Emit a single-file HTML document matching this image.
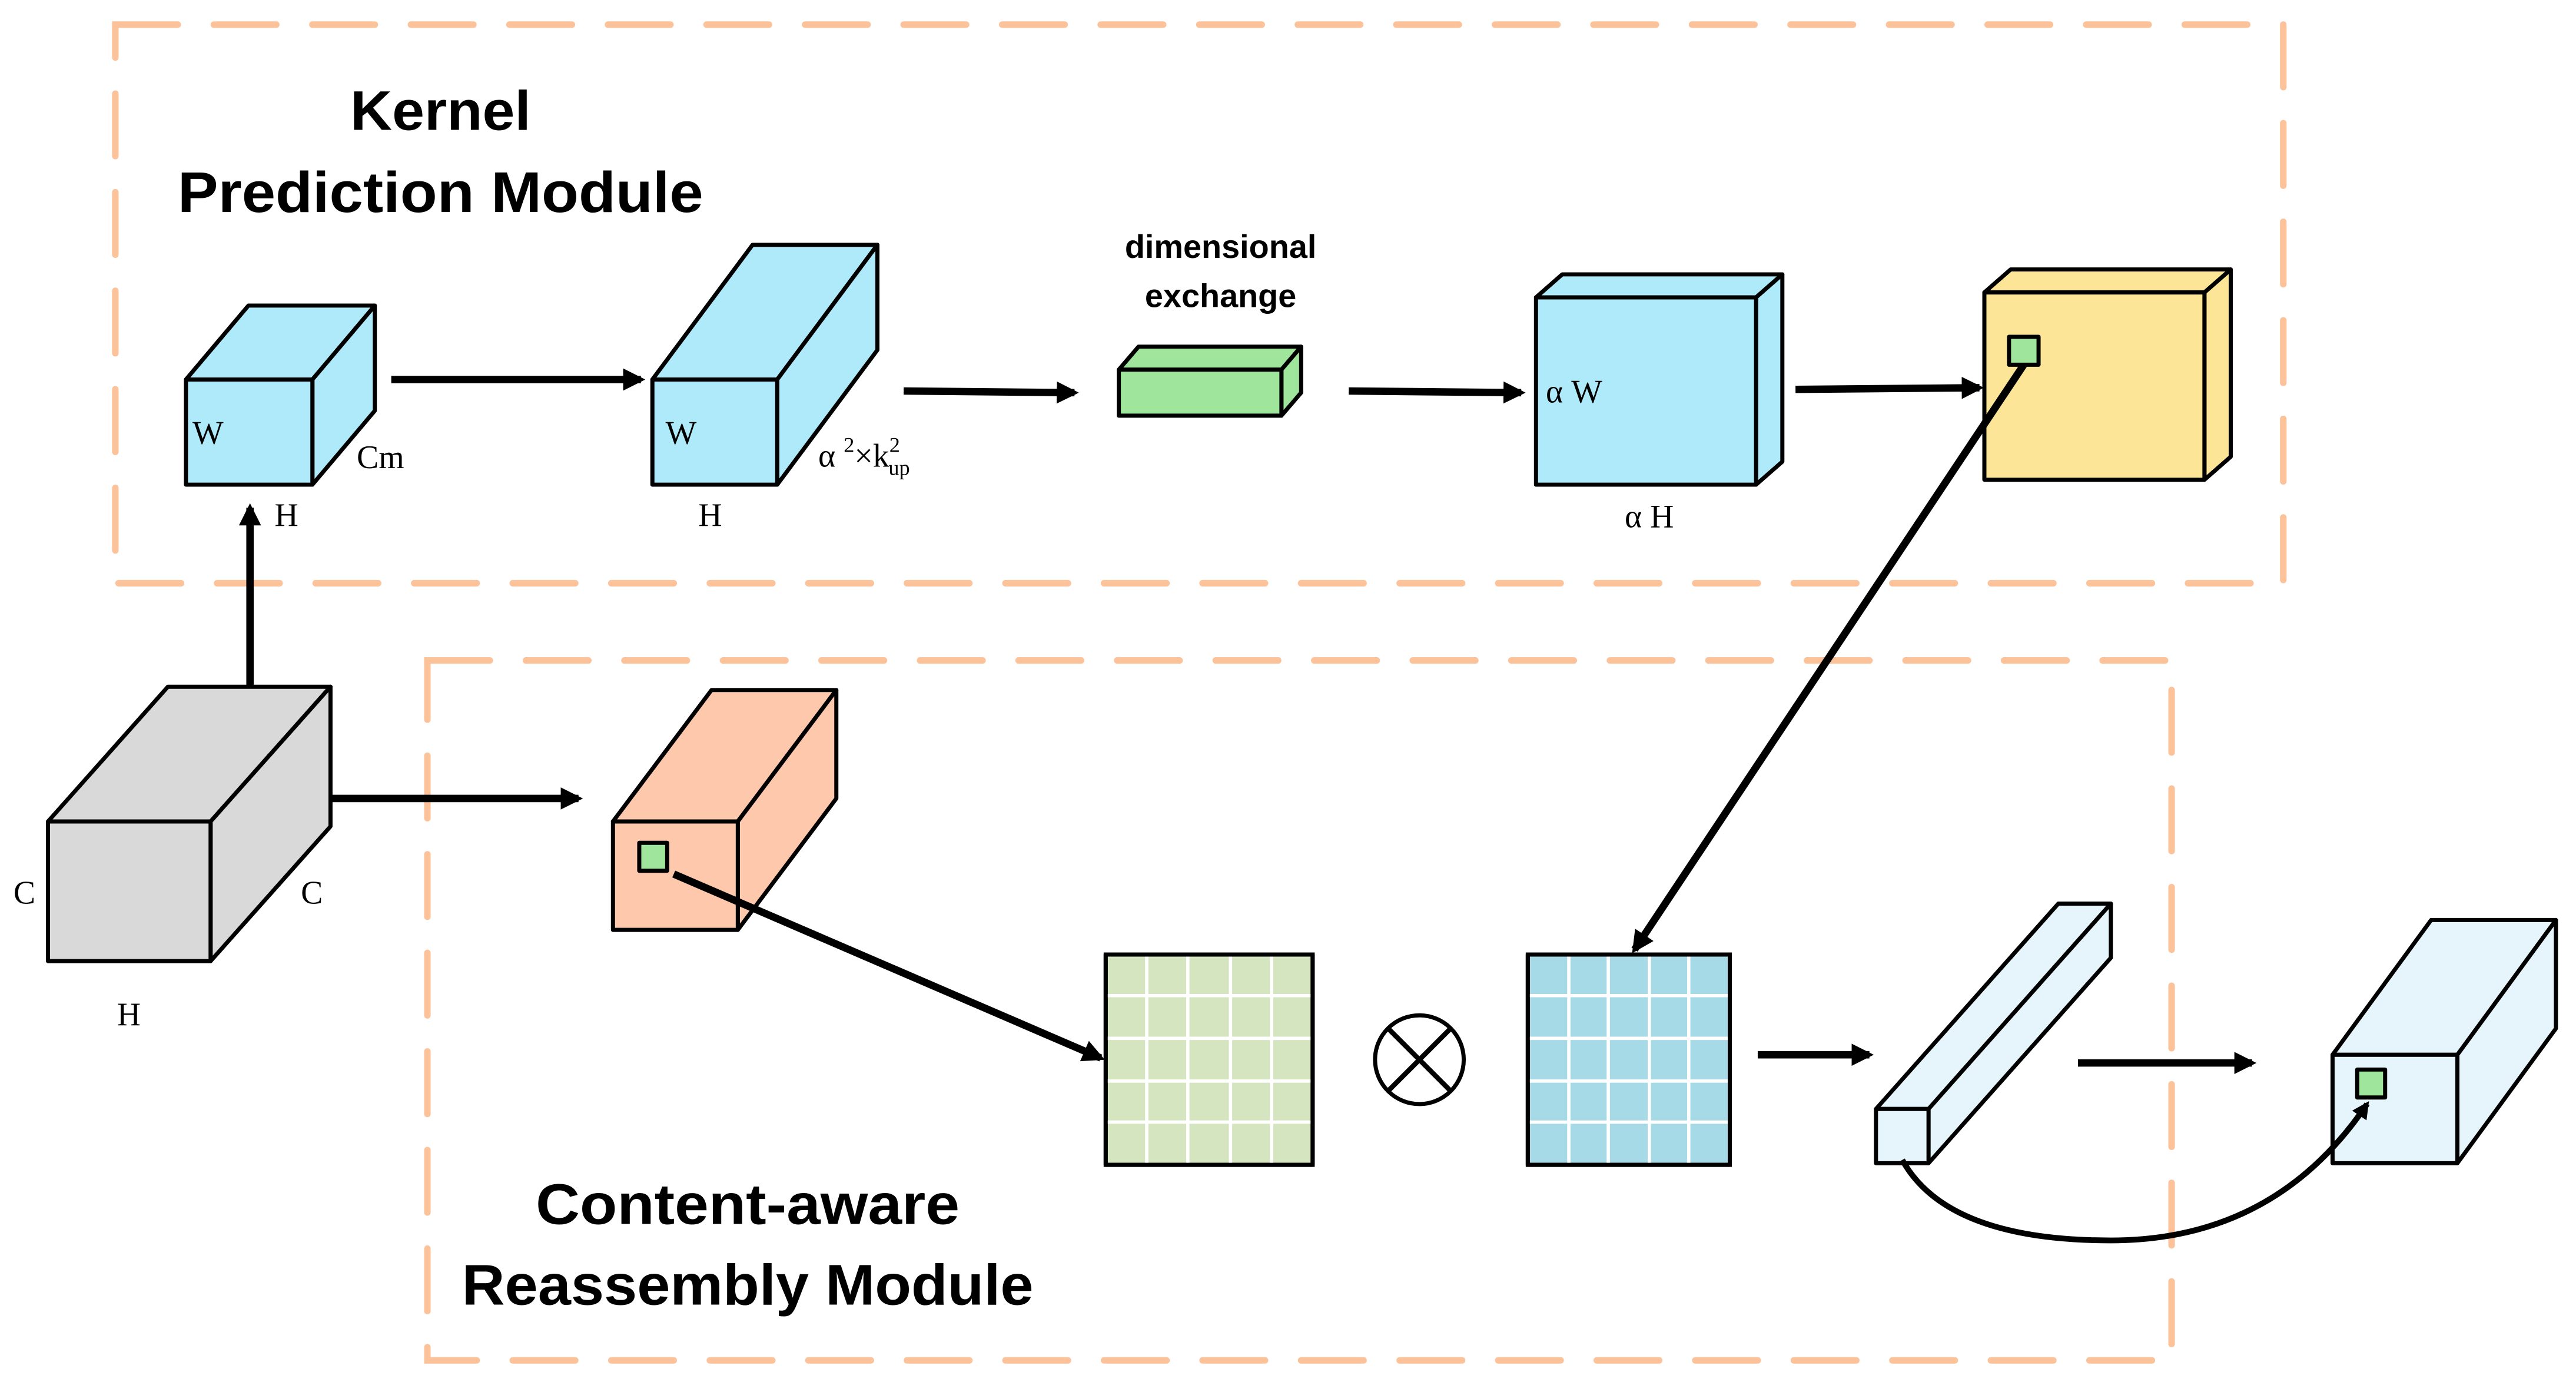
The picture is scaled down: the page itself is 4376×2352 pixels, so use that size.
<!DOCTYPE html>
<html><head><meta charset="utf-8"><style>html,body{margin:0;padding:0;background:#fff}svg{display:block}</style></head>
<body>
<svg width="4376" height="2352" viewBox="0 0 1568 843" xmlns="http://www.w3.org/2000/svg">
<defs>
<marker id="ah" viewBox="0 0 10 10" refX="8" refY="5" markerWidth="3" markerHeight="3" orient="auto" markerUnits="strokeWidth"><path d="M0,0 L10,5 L0,10 z" fill="#000"/></marker>
</defs>
<g fill="none" stroke="#fcc39a" stroke-width="4" stroke-dasharray="38,22" stroke-linecap="round">
<rect x="70" y="15" width="1320" height="340"/>
<rect x="260" y="402" width="1062" height="426"/>
</g>
<g font-family="Liberation Sans, sans-serif" font-weight="bold" text-anchor="middle" fill="#000">
<text x="268" y="79" font-size="34" textLength="110" lengthAdjust="spacingAndGlyphs">Kernel</text>
<text x="268" y="129" font-size="35" textLength="320" lengthAdjust="spacingAndGlyphs">Prediction Module</text>
<text x="455" y="745" font-size="35" textLength="258" lengthAdjust="spacingAndGlyphs">Content-aware</text>
<text x="455" y="794" font-size="35" textLength="348" lengthAdjust="spacingAndGlyphs">Reassembly Module</text>
<text x="743" y="157" font-size="20">dimensional</text>
<text x="743" y="187" font-size="20">exchange</text>
</g>
<g stroke="#000" stroke-width="2.5" stroke-linejoin="round">
<g fill="#aeeaf9"><path d="M113,231 L151,186 L228,186 L190,231Z"/><path d="M190,231 L228,186 L228,250 L190,295Z"/><rect x="113" y="231" width="77" height="64"/></g>
<g fill="#aeeaf9"><path d="M397,231 L458,149 L534,149 L473,231Z"/><path d="M473,231 L534,149 L534,213 L473,295Z"/><rect x="397" y="231" width="76" height="64"/></g>
<g fill="#9fe59c"><path d="M681,225 L693,211 L792,211 L780,225Z"/><path d="M780,225 L792,211 L792,239 L780,253Z"/><rect x="681" y="225" width="99" height="28"/></g>
<g fill="#aeeaf9"><path d="M935,181 L951,167 L1085,167 L1069,181Z"/><path d="M1069,181 L1085,167 L1085,281 L1069,295Z"/><rect x="935" y="181" width="134" height="114"/></g>
<g fill="#fde597"><path d="M1208,178 L1224,164 L1358,164 L1342,178Z"/><path d="M1342,178 L1358,164 L1358,278 L1342,292Z"/><rect x="1208" y="178" width="134" height="114"/></g>
<rect x="1223" y="205" width="18" height="17" fill="#9fe59c"/>
<g fill="#d9d9d9"><path d="M29,500 L102,418 L201,418 L128,500Z"/><path d="M128,500 L201,418 L201,503 L128,585Z"/><rect x="29" y="500" width="99" height="85"/></g>
<g fill="#fdc8ab"><path d="M373,500 L433,420 L509,420 L449,500Z"/><path d="M449,500 L509,420 L509,486 L449,566Z"/><rect x="373" y="500" width="76" height="66"/></g>
<rect x="389" y="513" width="17" height="17" fill="#9fe59c"/>
<g fill="#e6f5fc"><path d="M1142,675 L1253,550 L1285,550 L1174,675Z"/><path d="M1174,675 L1285,550 L1285,583 L1174,708Z"/><rect x="1142" y="675" width="32" height="33"/></g>
<g fill="#e6f5fc"><path d="M1420,642 L1480,560 L1556,560 L1496,642Z"/><path d="M1496,642 L1556,560 L1556,626 L1496,708Z"/><rect x="1420" y="642" width="76" height="66"/></g>
<rect x="1435" y="651" width="17" height="17" fill="#9fe59c"/>
<rect x="673" y="581" width="126" height="128" fill="#d5e5c0"/>
<rect x="930" y="581" width="123" height="128" fill="#a6dae6"/>
</g>
<g stroke="#fff" stroke-width="2">
<path d="M698,582V708M723,582V708M749,582V708M774,582V708M674,606H798M674,632H798M674,658H798M674,683H798"/>
<path d="M955,582V708M979,582V708M1004,582V708M1028,582V708M931,606H1052M931,632H1052M931,658H1052M931,683H1052"/>
</g>
<g fill="none" stroke="#000" stroke-width="2.5">
<rect x="673" y="581" width="126" height="128"/>
<rect x="930" y="581" width="123" height="128"/>
<circle cx="864" cy="645" r="27"/>
<path d="M845,626 L883,664 M883,626 L845,664" stroke-width="3"/>
</g>
<g stroke="#000" stroke-width="4.5" fill="none" marker-end="url(#ah)">
<path d="M238,231 L390,231"/>
<path d="M550,238 L654,239"/>
<path d="M821,238 L926,239"/>
<path d="M1093,237 L1205,236"/>
<path d="M1232,222 L995,578"/>
<path d="M152,418 L152,309"/>
<path d="M201,486 L352,486"/>
<path d="M410,532 L670,644"/>
<path d="M1070,642 L1138,642"/>
<path d="M1265,647 L1371,647"/>
</g>
<path d="M1158,706 Q1185,755 1285,755 Q1385,755 1441,672" fill="none" stroke="#000" stroke-width="3.5" marker-end="url(#ah)"/>
<g font-family="Liberation Serif, serif" fill="#000" font-size="20">
<text x="117" y="270">W</text>
<text x="217" y="285">Cm</text>
<text x="167" y="320">H</text>
<text x="405" y="270">W</text>
<text x="425" y="320">H</text>
<text x="498" y="284">α <tspan font-size="13" dy="-9">2</tspan><tspan dy="9">×k</tspan><tspan font-size="13" dy="-9">2</tspan><tspan font-size="13" dy="14" dx="-7">up</tspan></text>
<text x="941" y="245">α W</text>
<text x="989" y="321">α H</text>
<text x="8" y="550">C</text>
<text x="183" y="550">C</text>
<text x="71" y="624">H</text>
</g>
</svg>
</body></html>
